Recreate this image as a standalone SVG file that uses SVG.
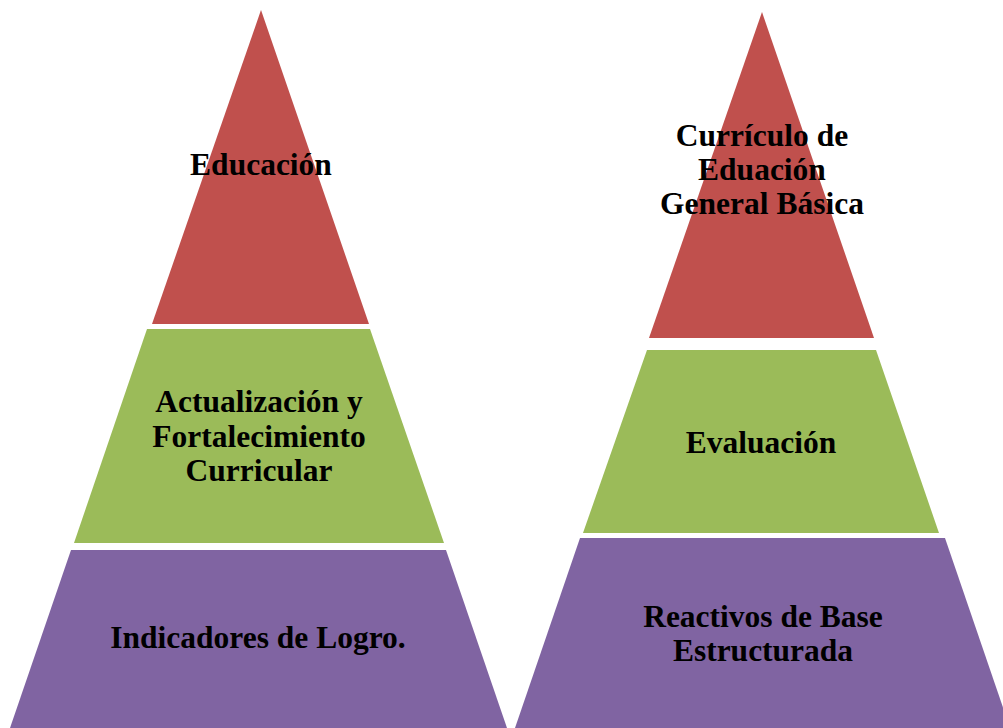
<svg xmlns="http://www.w3.org/2000/svg" width="1003" height="728" viewBox="0 0 1003 728">
<style>
.red{fill:#C0504D}
.green{fill:#9BBB59}
.purple{fill:#8064A2}
text{font-family:"Liberation Serif","Times New Roman",serif;font-weight:bold;font-size:31.5px;fill:#000;text-anchor:middle}
</style>
<rect width="1003" height="728" fill="#FFFFFF"/>
<g id="left-top">
<polygon class="red" points="261,10 369,324 152,324"/>
<text x="261" y="175">Educación</text>
</g>
<g id="left-middle">
<polygon class="green" points="147,329 370,329 444,543 74,543"/>
<text x="259" y="412">Actualización y</text>
<text x="259" y="446.5">Fortalecimiento</text>
<text x="259" y="481">Curricular</text>
</g>
<g id="left-bottom">
<polygon class="purple" points="71,550 446,550 507,728 10,728"/>
<text x="258" y="648">Indicadores de Logro.</text>
</g>
<g id="right-top">
<polygon class="red" points="762,12 874,338 649,338"/>
<text x="762" y="146">Currículo de</text>
<text x="762" y="180">Eduación</text>
<text x="762" y="214">General Básica</text>
</g>
<g id="right-middle">
<polygon class="green" points="647,350 876,350 939,533 583,533"/>
<text x="761" y="453">Evaluación</text>
</g>
<g id="right-bottom">
<polygon class="purple" points="580,538 945,538 1010,728 515,728"/>
<text x="763" y="627">Reactivos de Base</text>
<text x="763" y="661">Estructurada</text>
</g>
<g id="connectors"></g>
</svg>
